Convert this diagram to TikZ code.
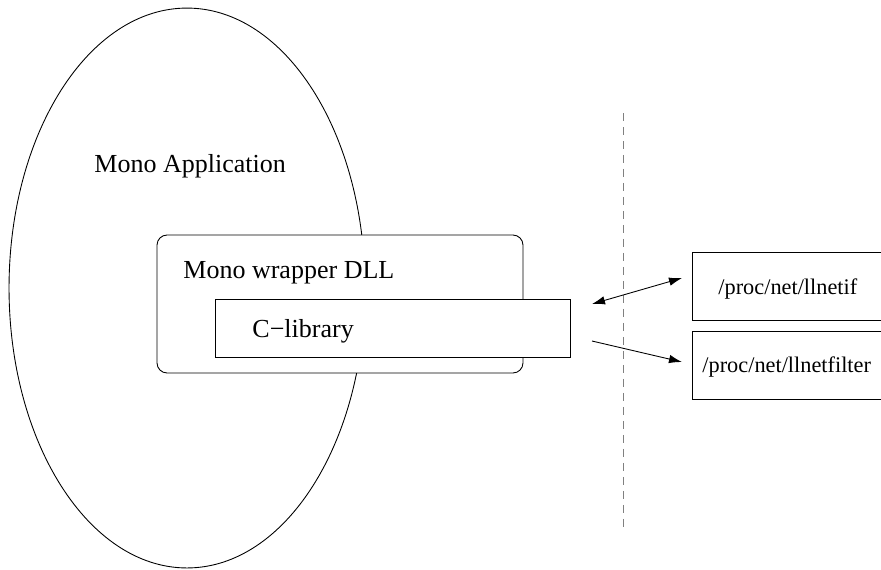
\documentclass[tikz,border=0pt]{standalone}
\usepackage{fontspec}
\setmainfont{Liberation Serif}
\usetikzlibrary{shapes.geometric,arrows.meta}
\begin{document}
\begin{tikzpicture}[x=0.02cm,y=-0.02cm,line width=0.5pt,
  lbl/.style={anchor=base west,inner sep=0pt,font=\fontsize{14.8}{17}\selectfont},
  small/.style={anchor=base west,inner sep=0pt,font=\fontsize{12.7}{15}\selectfont},
  box/.style={draw,fill=white,inner sep=0pt},
  tip/.style={-{Latex[length=0.26cm,width=0.17cm]}},
  tips/.style={{Latex[length=0.26cm,width=0.17cm]}-{Latex[length=0.26cm,width=0.17cm]}}]
  \useasboundingbox (0,0) rectangle (881,569);
  \node[draw,ellipse,minimum width=7.12cm,minimum height=11.2cm,inner sep=0pt] (app) at (187,288) {};
  \node[lbl] (applbl) at (94,172) {Mono Application};
  \node[box,rounded corners=0.2cm,minimum width=7.32cm,minimum height=2.76cm] (dll) at (340,304) {};
  \node[lbl] (dlllbl) at (183,278) {Mono wrapper DLL};
  \node[box,minimum width=7.1cm,minimum height=1.16cm] (clib) at (392.5,328) {};
  \node[lbl] (cliblbl) at (252,337) {C−library};
  % boundary
  \coordinate (top) at (623,113);
  \coordinate (bot) at (623,527);
  \draw[gray,dash pattern=on 0.16cm off 0.12cm] (top) -- (bot);
  % proc files
  \node[box,anchor=north west,minimum width=4.2cm,minimum height=1.36cm] (netif) at (692,252) {};
  \node[small] (netiflbl) at (718,294) {/proc/net/llnetif};
  \node[box,anchor=north west,minimum width=4.2cm,minimum height=1.36cm] (netfilter) at (692,331) {};
  \node[small] (netfilterlbl) at (702,372) {/proc/net/llnetfilter};
  \coordinate (a1) at (592,304);
  \coordinate (b1) at (682,278);
  \coordinate (a2) at (592,341);
  \coordinate (b2) at (682,362);
  \draw[tips] (a1) -- (b1);
  \draw[tip] (a2) -- (b2);
\end{tikzpicture}
\end{document}
